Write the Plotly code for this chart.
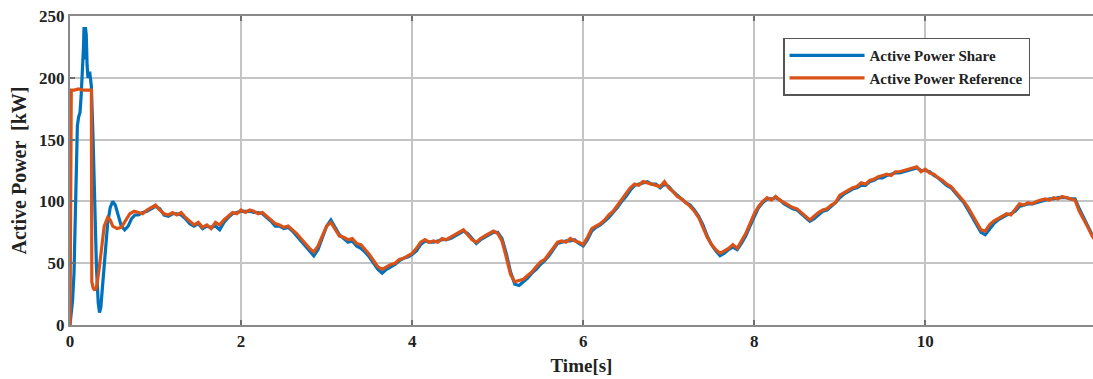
import plotly.graph_objects as go

# ---------------- data ----------------
# early transient, reference (orange)
t_ref_start = [0, 0.015, 0.05, 0.10, 0.15, 0.20, 0.25, 0.255, 0.27, 0.29, 0.31, 0.34, 0.37,
               0.40, 0.44, 0.47, 0.50, 0.55, 0.60, 0.65, 0.70, 0.75]
p_ref_start = [0, 190, 190, 191, 190, 190, 190, 35, 30, 28, 31, 45, 65,
               80, 87, 85, 80, 78, 79, 84, 90, 92]

# early transient, share (blue)
t_share_start = [0, 0.03, 0.047, 0.06, 0.07, 0.08, 0.086, 0.10, 0.117, 0.13, 0.15, 0.158,
                 0.164, 0.168, 0.172, 0.176, 0.18, 0.19, 0.20, 0.21, 0.23, 0.25, 0.27, 0.29,
                 0.31, 0.33, 0.345, 0.36, 0.38, 0.41, 0.44, 0.47, 0.50, 0.53, 0.57, 0.60,
                 0.64, 0.68, 0.72, 0.76]
p_share_start = [0, 20, 42, 80, 100, 130, 161, 168, 172, 185, 210, 225,
                 241, 215, 240, 220, 241, 235, 210, 200, 205, 193, 150, 90,
                 45, 18, 10, 14, 30, 60, 82, 95, 100, 97, 88, 80,
                 77, 80, 86, 89]

# steady part, common time samples
t_steady = [0.80, 0.85, 0.90, 0.95, 1.00, 1.05, 1.10, 1.15, 1.20, 1.25, 1.30, 1.35, 1.40, 1.45,
            1.50, 1.55, 1.60, 1.65, 1.70, 1.75, 1.80, 1.85, 1.90, 1.95, 2.00, 2.05, 2.10, 2.15,
            2.20, 2.25, 2.30, 2.35, 2.40, 2.45, 2.50, 2.55, 2.60, 2.65, 2.70, 2.75, 2.80, 2.85,
            2.90, 2.95, 3.00, 3.05, 3.10, 3.15, 3.20, 3.25, 3.30, 3.35, 3.40, 3.45, 3.50, 3.55,
            3.60, 3.65, 3.70, 3.75, 3.80, 3.85, 3.90, 3.95, 4.00, 4.05, 4.10, 4.15, 4.20, 4.25,
            4.30, 4.35, 4.40, 4.45, 4.50, 4.55, 4.60, 4.65, 4.70, 4.75, 4.80, 4.85, 4.90, 4.95,
            5.00, 5.05, 5.10, 5.15, 5.20, 5.25, 5.30, 5.35, 5.40, 5.45, 5.50, 5.55, 5.60, 5.65,
            5.70, 5.75, 5.80, 5.85, 5.90, 5.95, 6.00, 6.05, 6.10, 6.15, 6.20, 6.25, 6.30, 6.35,
            6.40, 6.45, 6.50, 6.55, 6.60, 6.65, 6.70, 6.75, 6.80, 6.85, 6.90, 6.95, 7.00, 7.05,
            7.10, 7.15, 7.20, 7.25, 7.30, 7.35, 7.40, 7.45, 7.50, 7.55, 7.60, 7.65, 7.70, 7.75,
            7.80, 7.85, 7.90, 7.95, 8.00, 8.05, 8.10, 8.15, 8.20, 8.25, 8.30, 8.35, 8.40, 8.45,
            8.50, 8.55, 8.60, 8.65, 8.70, 8.75, 8.80, 8.85, 8.90, 8.95, 9.00, 9.05, 9.10, 9.15,
            9.20, 9.25, 9.30, 9.35, 9.40, 9.45, 9.50, 9.55, 9.60, 9.65, 9.70, 9.75, 9.80, 9.85,
            9.90, 9.95, 10.00, 10.05, 10.10, 10.15, 10.20, 10.25, 10.30, 10.35, 10.40, 10.45,
            10.50, 10.55, 10.60, 10.65, 10.70, 10.75, 10.80, 10.85, 10.90, 10.95, 11.00, 11.05,
            11.10, 11.15, 11.20, 11.25, 11.30, 11.35, 11.40, 11.45, 11.50, 11.55, 11.60, 11.65,
            11.70, 11.75, 11.80, 11.85, 11.90, 11.95, 12.00]

p_ref_steady = [91, 90, 93, 95, 97, 93, 90, 89, 91, 89, 91, 87, 84, 81,
                83, 79, 81, 78, 83, 81, 85, 88, 91, 90, 93, 91, 93, 92,
                90, 91, 88, 85, 82, 81, 79, 80, 77, 74, 70, 66, 62, 59,
                64, 72, 80, 83, 77, 72, 71, 69, 70, 66, 65, 61, 57, 52,
                47, 45, 47, 49, 50, 53, 54, 56, 58, 62, 67, 69, 67, 68,
                67, 70, 69, 71, 73, 75, 77, 73, 69, 67, 70, 72, 74, 76,
                74, 68, 55, 41, 35, 36, 37, 40, 43, 47, 51, 53, 58, 63,
                67, 68, 67, 70, 68, 67, 65, 71, 78, 80, 82, 85, 89, 92,
                97, 101, 106, 111, 114, 113, 116, 115, 114, 113, 112, 116, 111, 108,
                104, 102, 99, 96, 92, 87, 79, 71, 65, 61, 58, 60, 62, 65,
                62, 68, 74, 82, 90, 96, 100, 103, 101, 104, 101, 99, 97, 95,
                94, 91, 88, 85, 88, 91, 93, 94, 97, 99, 105, 107, 109, 111,
                112, 115, 114, 117, 118, 120, 121, 122, 121, 124, 124, 125, 126, 127,
                128, 124, 126, 123, 122, 119, 117, 114, 112, 108, 104, 100,
                95, 89, 83, 77, 76, 81, 84, 86, 88, 90, 89, 93,
                98, 97, 99, 98, 100, 101, 102, 101, 103, 102, 104, 103,
                102, 101, 92, 86, 79, 72, 67]

p_share_steady = [89, 91, 92, 94, 96, 94, 89, 88, 90, 90, 89, 86, 82, 80,
                  82, 78, 80, 79, 80, 77, 83, 87, 90, 91, 92, 92, 92, 91,
                  91, 90, 87, 84, 80, 80, 78, 79, 76, 72, 68, 64, 60, 56,
                  61, 70, 80, 85, 79, 73, 70, 67, 68, 64, 62, 59, 55, 50,
                  45, 42, 45, 47, 49, 52, 54, 55, 57, 60, 65, 68, 67, 67,
                  68, 69, 69, 70, 72, 74, 76, 74, 70, 66, 69, 71, 73, 75,
                  75, 70, 58, 43, 33, 32, 35, 38, 42, 45, 49, 52, 56, 61,
                  66, 67, 68, 68, 69, 66, 64, 69, 76, 79, 81, 84, 87, 91,
                  95, 100, 104, 109, 113, 114, 115, 116, 114, 114, 111, 114, 112, 108,
                  105, 102, 99, 97, 93, 88, 81, 72, 65, 60, 56, 58, 61, 63,
                  61, 66, 72, 80, 88, 95, 99, 102, 102, 103, 101, 98, 96, 94,
                  93, 90, 87, 84, 86, 89, 92, 93, 96, 99, 103, 106, 108, 110,
                  111, 113, 113, 116, 117, 119, 119, 121, 122, 123, 123, 124, 125, 126,
                  127, 125, 125, 124, 121, 119, 116, 113, 111, 107, 103, 99,
                  93, 87, 81, 75, 73, 78, 82, 85, 87, 89, 90, 92,
                  96, 97, 98, 98, 99, 100, 101, 102, 102, 103, 103, 103,
                  102, 102, 94, 87, 80, 73, 68]

x_tick_vals = [0, 2, 4, 6, 8, 10]
y_tick_vals = [0, 50, 100, 150, 200, 250]

series_names = ["Active Power Share", "Active Power Reference"]
series_colors = ["#0072BD", "#D95319"]

t_share = t_share_start + t_steady
p_share = p_share_start + p_share_steady
t_ref = t_ref_start + t_steady
p_ref = p_ref_start + p_ref_steady

# ---------------- figure ----------------
FONT = "Liberation Serif"
TXT = "#222222"

fig = go.Figure()
fig.add_trace(go.Scatter(x=t_share, y=p_share, mode="lines", name=series_names[0],
                         line=dict(color=series_colors[0], width=3.2)))
fig.add_trace(go.Scatter(x=t_ref, y=p_ref, mode="lines", name=series_names[1],
                         line=dict(color=series_colors[1], width=3.2)))

axis_common = dict(
    showgrid=True, gridcolor="#c4c4c4", gridwidth=1.5,
    zeroline=False, showline=True, linecolor="#8a8a8a", linewidth=2,
    ticks="inside", ticklen=5, tickcolor="#6f6f6f", tickwidth=2,
    tickfont=dict(family=FONT, size=17, color=TXT, weight="bold"),
)

fig.update_layout(
    width=1093, height=379,
    margin=dict(l=70, r=0, t=16, b=54),
    paper_bgcolor="white", plot_bgcolor="white",
    font=dict(family=FONT),
    xaxis=dict(range=[0, 11.96], tickvals=x_tick_vals, mirror="ticks",
               title=dict(text="Time[s]",
                          font=dict(family=FONT, size=19, color=TXT, weight="bold"),
                          standoff=8),
               **axis_common),
    yaxis=dict(range=[0, 250], tickvals=y_tick_vals, mirror=False,
               title=dict(text="Active Power  [kW]",
                          font=dict(family=FONT, size=20, color=TXT, weight="bold"),
                          standoff=7),
               **axis_common),
    legend=dict(x=0.697, y=0.93, xanchor="left", yanchor="top",
                bgcolor="white", bordercolor="#555555", borderwidth=1.5,
                font=dict(family=FONT, size=15, color=TXT, weight="bold"),
                tracegroupgap=0, itemwidth=75, entrywidth=270, entrywidthmode="pixels"),
    showlegend=True,
)

fig.write_html("out.html")
